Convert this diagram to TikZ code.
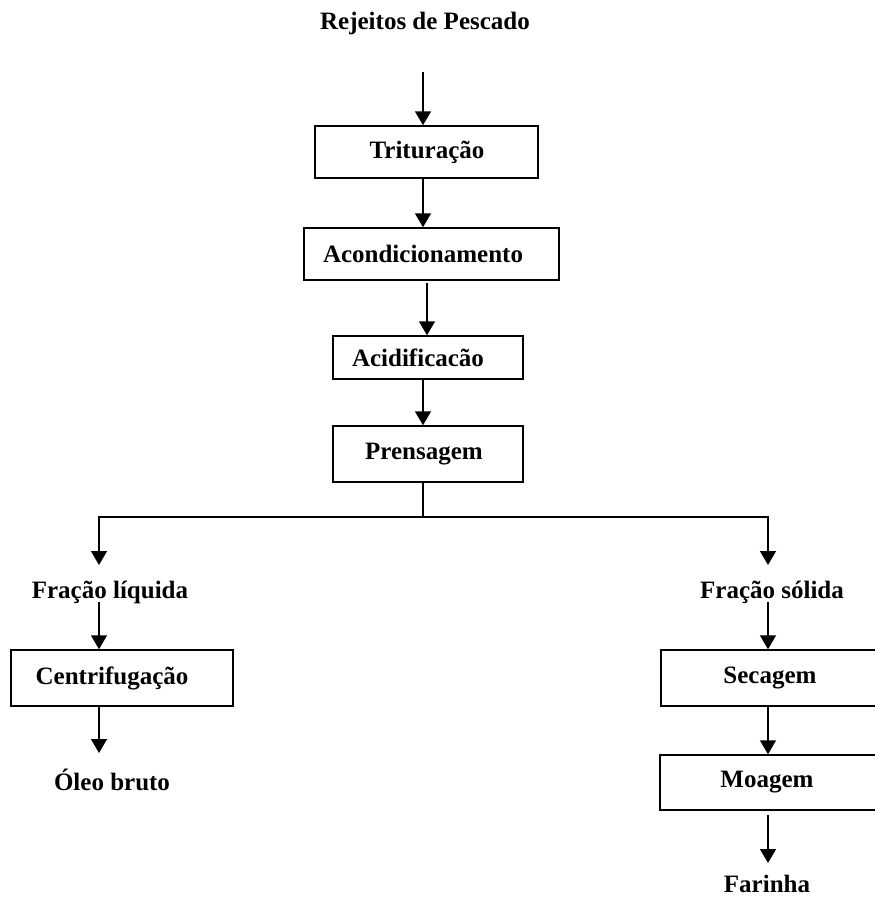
\documentclass[tikz,border=0pt]{standalone}
\usepackage{fontspec}
\setmainfont{Liberation Serif}
\usetikzlibrary{arrows.meta}
\begin{document}
\begin{tikzpicture}[x=1pt,y=-1pt,
  box/.style={draw,line width=1.5pt,minimum width=#1,inner sep=0pt},
  txt/.style={inner sep=0pt,font=\fontsize{25}{29}\selectfont\bfseries},
  arr/.style={line width=1.5pt,-{Triangle[length=14pt,width=16pt]}},
  ln/.style={line width=1.5pt}]
\useasboundingbox (0,0) rectangle (875,898);
\fill[white] (0,0) rectangle (875,898);
% boxes
\node[box=223pt,minimum height=52pt] (trit) at (426.5,152) {};
\node[box=255pt,minimum height=52pt] (acond) at (431.5,254) {};
\node[box=190pt,minimum height=43pt] (acid) at (428,357.5) {};
\node[box=190pt,minimum height=56pt] (prens) at (428,454) {};
\node[box=222pt,minimum height=56pt] (centr) at (122,678) {};
\node[box=220pt,minimum height=56pt] (sec) at (771,678) {};
\node[box=220pt,minimum height=55pt] (moag) at (770,782.5) {};
% texts
\node[txt] (title) at (425,23) {Rejeitos de Pescado};
\node[txt] (ttrit) at (427,152) {Trituração};
\node[txt] (tacond) at (423,254) {Acondicionamento};
\node[txt] (tacid) at (418,357.5) {Acidificacão};
\node[txt] (tprens) at (424,454) {Prensagem};
\node[txt] (liq) at (110,592) {Fração líquida};
\node[txt] (sol) at (772,592) {Fração sólida};
\node[txt] (tcentr) at (112,678) {Centrifugação};
\node[txt] (tsec) at (770,678) {Secagem};
\node[txt] (tmoag) at (767,782.5) {Moagem};
\node[txt] (oleo) at (112,780) {Óleo bruto};
\node[txt] (far) at (767,884) {Farinha};
% connectors
\coordinate (s0) at (423,72);
\coordinate (split) at (423,517);
\draw[arr] (s0) -- (423,0 |- trit.north);
\draw[arr] (423,0 |- trit.south) -- (423,0 |- acond.north);
\draw[arr] (427,283) -- (427,0 |- acid.north);
\draw[arr] (423,0 |- acid.south) -- (423,0 |- prens.north);
\draw[ln] (423,0 |- prens.south) -- (split);
\draw[arr] (split) -| (99,565);
\draw[arr] (split) -| (768,565);
\draw[arr] (99,602) -- (99,0 |- centr.north);
\draw[arr] (99,0 |- centr.south) -- (99,753);
\draw[arr] (768,602) -- (768,0 |- sec.north);
\draw[arr] (768,0 |- sec.south) -- (768,0 |- moag.north);
\draw[arr] (768,815) -- (768,863);
\end{tikzpicture}
\end{document}
